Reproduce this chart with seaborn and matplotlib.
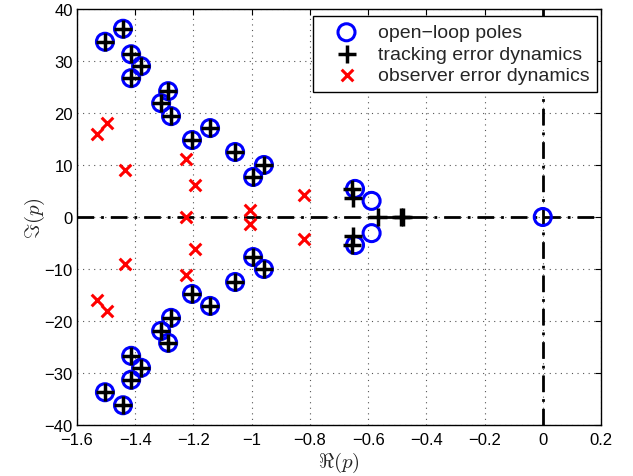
import numpy as np
import pandas as pd
import matplotlib
matplotlib.use("Agg")
import matplotlib.pyplot as plt
import seaborn as sns

# Open-loop poles (upper half, mirrored for lower half) + extras
ol_re_up = [-1.504, -1.442, -1.414, -1.380, -1.414, -1.311, -1.287, -1.277,
            -1.205, -1.143, -1.057, -0.995, -0.958, -0.645, -0.588]
ol_im_up = [33.7, 36.2, 31.3, 29.0, 26.7, 21.9, 24.2, 19.4,
            14.8, 17.1, 12.5, 7.7, 10.0, 5.4, 3.1]
ol_re_real = [0.0]

# Tracking error dynamics
tr_re_up = [-1.504, -1.442, -1.414, -1.380, -1.414, -1.311, -1.287, -1.277,
            -1.205, -1.143, -1.057, -0.995, -0.958, -0.655, -0.651]
tr_im_up = [33.7, 36.2, 31.3, 29.0, 26.7, 21.9, 24.2, 19.4,
            14.8, 17.1, 12.5, 7.7, 10.0, 5.3, 3.6]
tr_re_real = [-0.565, -0.488, -0.481]

# Observer error dynamics
ob_re_up = [-1.531, -1.497, -1.435, -1.226, -1.195, -1.006, -0.820]
ob_im_up = [16.0, 18.1, 9.0, 11.2, 6.2, 1.3, 4.2]
ob_re_real = [-1.226]

x_ticks = [-1.6, -1.4, -1.2, -1.0, -0.8, -0.6, -0.4, -0.2, 0.0, 0.2]
x_ticklabels = ["\u22121.6", "\u22121.4", "\u22121.2", "\u22121", "\u22120.8",
                "\u22120.6", "\u22120.4", "\u22120.2", "0", "0.2"]
y_ticks = [-40, -30, -20, -10, 0, 10, 20, 30, 40]
y_ticklabels = ["\u221240", "\u221230", "\u221220", "\u221210", "0",
                "10", "20", "30", "40"]

def build(re_up, im_up, re_real):
    re = list(re_up) + list(re_up) + list(re_real)
    im = list(im_up) + [-v for v in im_up] + [0.0] * len(re_real)
    return pd.DataFrame({"re": re, "im": im})

ol = build(ol_re_up, ol_im_up, ol_re_real)
tr = build(tr_re_up, tr_im_up, tr_re_real)
ob = build(ob_re_up, ob_im_up, ob_re_real)

sns.set_theme(style="white")
plt.rcParams["font.family"] = ["Liberation Sans", "DejaVu Sans"]
plt.rcParams["mathtext.fontset"] = "cm"

fig = plt.figure(figsize=(6.33, 4.77), dpi=100)
ax = fig.add_axes([77 / 633, 1 - 426 / 477, (601 - 77) / 633, (426 - 10) / 477])

ax.axhline(0, color="black", lw=2, ls=(0, (6, 2.5, 1, 2.5)), zorder=1)
ax.axvline(0, color="black", lw=2, ls=(0, (6, 2.5, 1, 2.5)), zorder=1)

sns.scatterplot(data=ol, x="re", y="im", ax=ax, marker="o", s=150,
                facecolor="none", edgecolor="#0000ff", linewidth=2.2,
                label="open\u2212loop poles", zorder=3)
sns.scatterplot(data=tr, x="re", y="im", ax=ax, marker="+", s=150,
                color="black", linewidth=2.5,
                label="tracking error dynamics", zorder=4)
sns.scatterplot(data=ob, x="re", y="im", ax=ax, marker="x", s=70,
                color="#ff0000", linewidth=2.2,
                label="observer error dynamics", zorder=4)

ax.set_xlim(-1.6, 0.2)
ax.set_ylim(-40, 40)
ax.set_xticks(x_ticks)
ax.set_xticklabels(x_ticklabels)
ax.set_yticks(y_ticks)
ax.set_yticklabels(y_ticklabels)
ax.tick_params(direction="in", top=True, right=True, length=4, width=0.8,
               labelsize=12, colors="black")
ax.tick_params(axis="x", pad=5)
ax.tick_params(axis="y", pad=3)
ax.grid(True, color="#555555", ls=(0, (1, 4)), lw=0.8)
for sp in ax.spines.values():
    sp.set_color("black")
    sp.set_linewidth(1.0)

ax.set_xlabel(r"$\Re(p)$", fontsize=15, labelpad=2)
ax.set_ylabel(r"$\Im(p)$", fontsize=15, labelpad=-2)

leg = ax.legend(loc="upper right", bbox_to_anchor=(0.9924, 0.9832),
                fontsize=14, frameon=True, fancybox=False,
                edgecolor="black", borderaxespad=0.0, handletextpad=0.3,
                borderpad=0.4, labelspacing=0.2, handlelength=2.6)
leg.get_frame().set_linewidth(1.0)
leg.get_frame().set_alpha(1)

fig.savefig("out.png", dpi=100)
